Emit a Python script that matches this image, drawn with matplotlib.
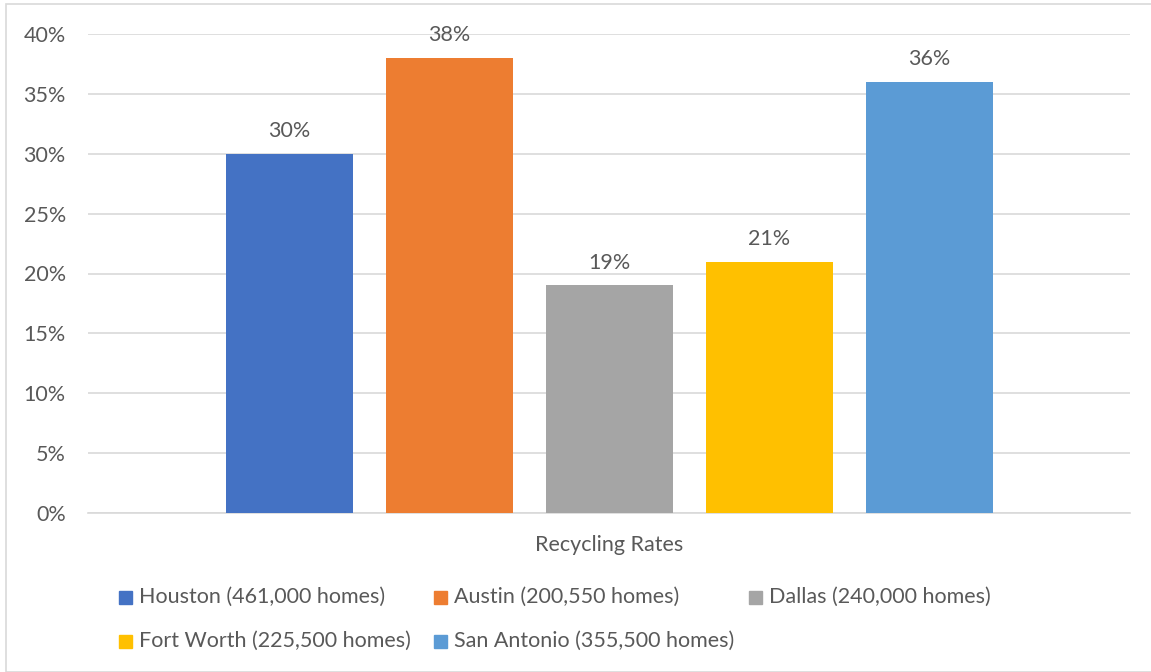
import matplotlib
matplotlib.use("Agg")
import matplotlib.pyplot as plt
from matplotlib.patches import Rectangle
import numpy as np

cities = ["Houston (461,000 homes)", "Austin (200,550 homes)", "Dallas (240,000 homes)",
          "Fort Worth (225,500 homes)", "San Antonio (355,500 homes)"]
rates = [30, 38, 19, 21, 36]
colors = ["#4472C4", "#ED7D31", "#A5A5A5", "#FFC000", "#5B9BD5"]
category = "Recycling Rates"
yticks = [0, 5, 10, 15, 20, 25, 30, 35, 40]

W, H = 1151, 672
plt.rcParams['font.family'] = ['Lato', 'DejaVu Sans']
txt = "#595959"
fs = 15.5

fig = plt.figure(figsize=(W/100, H/100), dpi=100)
fig.patches.append(Rectangle((6/W, 0), 1.2, 1 - 4/H, transform=fig.transFigure,
                             fill=False, edgecolor="#D9D9D9", linewidth=1.2))

ax = fig.add_axes([88/W, 1 - 513/H, (1130-88)/W, (513-34)/H])
n = len(rates)
spacing = 160/1042
width = 127/1042
offsets = (np.arange(n) - (n-1)/2) * spacing
bars = ax.bar(offsets, rates, width=width, color=colors, zorder=3)
for b, v in zip(bars, rates):
    ax.annotate(f"{v}%", (b.get_x() + b.get_width()/2, v), xytext=(0, 9),
                textcoords="offset points", ha="center", va="bottom",
                fontsize=fs, color=txt)
ax.set_xlim(-0.5, 0.5)
ax.set_ylim(0, 40)
ax.set_yticks(yticks)
ax.set_yticklabels([f"{t}%" for t in yticks], fontsize=fs, color=txt)
ax.tick_params(axis='y', length=0, pad=16)
ax.set_xticks([0])
ax.set_xticklabels([category], fontsize=fs, color=txt)
ax.tick_params(axis='x', length=0, pad=16)
ax.grid(axis='y', color="#D9D9D9", linewidth=1.2, zorder=0)
for s in ["top", "right", "left"]:
    ax.spines[s].set_visible(False)
ax.spines["bottom"].set_color("#D9D9D9")
ax.spines["bottom"].set_linewidth(1.2)

for i, (lab, c) in enumerate(zip(cities, colors)):
    col, row = i % 3, i // 3
    x = 119 + 315*col
    y = 597 + 44*row
    fig.patches.append(Rectangle((x/W, 1 - (y+6.5)/H), 13/W, 13/H,
                                 transform=fig.transFigure, color=c))
    fig.text((x+20)/W, 1 - y/H, lab, fontsize=fs, color=txt, va="center", ha="left")

fig.savefig("out.png", dpi=100)
